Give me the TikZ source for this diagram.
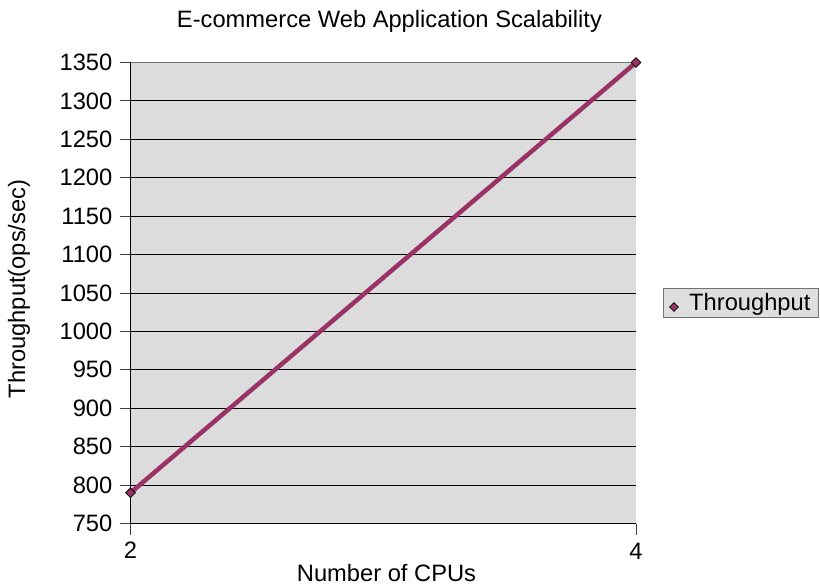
\documentclass[tikz,border=0pt]{standalone}
\usepackage{fontspec}
\setmainfont{Liberation Sans}
\usetikzlibrary{shapes.geometric}
\definecolor{plotbg}{HTML}{DCDCDC}
\definecolor{series}{HTML}{993366}
\definecolor{legbg}{HTML}{DEDEDE}
\tikzset{
  lbl/.style={font=\fontsize{23.7}{26}\selectfont, inner sep=0pt},
  grid line/.style={black, line width=0.9pt},
  tk/.style={black!75, line width=0.9pt},
  axis line/.style={black, line width=1.6pt},
  mk/.style={diamond, draw=black, line width=0.8pt, fill=series, minimum width=10pt, minimum height=10pt, inner sep=0pt},
}
\begin{document}
\begin{tikzpicture}[x=1pt,y=-1pt]
\useasboundingbox (0,0) rectangle (820,586);
% plot area
\fill[plotbg] (130.5,62.5) rectangle (636,523.5);
\foreach \v in {800,850,...,1300}{
  \pgfmathsetmacro\yy{523.5-(\v-750)/600*461}
  \draw[grid line] (130.5,\yy) -- (636,\yy);
}
\draw[black!55, line width=1pt] (130.5,62.5) -- (636,62.5);
\foreach \v in {750,800,...,1350}{
  \pgfmathsetmacro\yy{523.5-(\v-750)/600*461}
  \draw[tk] (119.5,\yy) -- (130.5,\yy);
  \node[lbl, anchor=east] at (112.5,\yy) {\v};
}
\draw[axis line] (130.5,62.5) -- (130.5,523.5) -- (636,523.5);
\draw[tk] (130.5,523.5) -- (130.5,535);
\draw[tk] (636,523.5) -- (636,535);
\node[lbl] (x2) at (130.5,550) {2};
\node[lbl] (x4) at (636,551) {4};
% data
\coordinate (d1) at (130.5,492.8);
\coordinate (d2) at (636,62.5);
\draw[series, line width=4.5pt] (d1) -- (d2);
\node[mk] (p1) at (d1) {};
\node[mk] (p2) at (d2) {};
% titles
\node[lbl] (title) at (389.5,21) {E-commerce Web Application Scalability};
\node[lbl] (xlab) at (386.5,573) {Number of CPUs};
\node[lbl, rotate=90] (ylab) at (19,289) {Throughput(ops/sec)};
% legend
\draw[black!55, fill=legbg, line width=1pt] (663,288) rectangle (818,317);
\node[mk, minimum width=9pt, minimum height=9pt] (lm) at (674,307) {};
\node[lbl, anchor=west] (lt) at (689,304) {Throughput};
\end{tikzpicture}
\end{document}
